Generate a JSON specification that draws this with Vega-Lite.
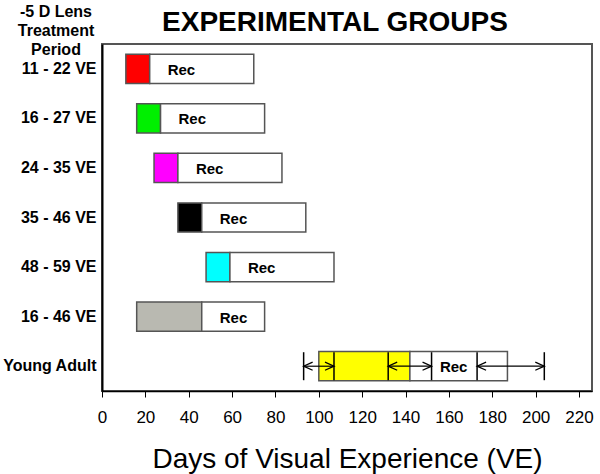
{
  "$schema": "https://vega.github.io/schema/vega-lite/v6.json",
  "width": 490,
  "height": 347,
  "autosize": {"type": "none"},
  "padding": {"left": 102, "top": 44, "right": 8, "bottom": 83},
  "background": "white",
  "config": {
    "font": "Liberation Sans",
    "view": {"stroke": "#555", "strokeWidth": 2}
  },
  "title": {
    "text": "EXPERIMENTAL GROUPS",
    "fontSize": 28,
    "fontWeight": "bold",
    "color": "black",
    "anchor": "middle",
    "frame": "group",
    "baseline": "alphabetic",
    "offset": 0,
    "dy": 56,
    "dx": -12
  },
  "datasets": {
    "groups": [
      {"group": "11 - 22 VE", "treat_start": 11, "treat_end": 22, "rec_end": 70},
      {"group": "16 - 27 VE", "treat_start": 16, "treat_end": 27, "rec_end": 75},
      {"group": "24 - 35 VE", "treat_start": 24, "treat_end": 35, "rec_end": 83},
      {"group": "35 - 46 VE", "treat_start": 35, "treat_end": 46, "rec_end": 94},
      {"group": "48 - 59 VE", "treat_start": 48, "treat_end": 59, "rec_end": 107},
      {"group": "16 - 46 VE", "treat_start": 16, "treat_end": 46, "rec_end": 75},
      {"group": "Young Adult", "treat_start": 100, "treat_end": 142, "rec_end": 187}
    ],
    "ranges": [
      {"group": "Young Adult", "lo": 93, "hi": 107},
      {"group": "Young Adult", "lo": 132, "hi": 152},
      {"group": "Young Adult", "lo": 173, "hi": 204}
    ]
  },
  "encoding": {
    "y": {
      "field": "group",
      "type": "nominal",
      "scale": {
        "domain": ["11 - 22 VE", "16 - 27 VE", "24 - 35 VE", "35 - 46 VE", "48 - 59 VE", "16 - 46 VE", "Young Adult"],
        "paddingInner": 0.41,
        "paddingOuter": 0.205
      },
      "axis": {
        "title": ["-5 D Lens", "Treatment", "Period"],
        "titleAngle": 0,
        "titleAlign": "center",
        "titleBaseline": "alphabetic",
        "titleX": -46.5,
        "titleY": -28,
        "titleLineHeight": 19,
        "titleFontSize": 16,
        "titleFontWeight": "bold",
        "titleColor": "black",
        "labelFontSize": 16,
        "labelFontWeight": "bold",
        "labelColor": "black",
        "labelPadding": 6,
        "ticks": false,
        "domainColor": "black",
        "domainWidth": 2
      }
    }
  },
  "layer": [
    {
      "data": {"name": "groups"},
      "mark": {"type": "rect", "stroke": "#555", "strokeWidth": 1.5},
      "encoding": {
        "x": {
          "field": "treat_start",
          "type": "quantitative",
          "scale": {"domain": [0, 226], "nice": false},
          "axis": {
            "title": "Days of Visual Experience (VE)",
            "values": [0, 20, 40, 60, 80, 100, 120, 140, 160, 180, 200, 220],
            "grid": false,
            "labelFontSize": 17,
            "labelColor": "black",
            "labelBaseline": "alphabetic",
            "labelPadding": 25,
            "labelFlush": false,
            "tickSize": 6,
            "tickColor": "black",
            "domainColor": "black",
            "domainWidth": 1.5,
            "titleFontSize": 28,
            "titleFontWeight": "normal",
            "titleColor": "black",
            "titleBaseline": "alphabetic",
            "titleY": 76
          }
        },
        "x2": {"field": "treat_end"},
        "fill": {
          "field": "group",
          "type": "nominal",
          "scale": {
            "domain": ["11 - 22 VE", "16 - 27 VE", "24 - 35 VE", "35 - 46 VE", "48 - 59 VE", "16 - 46 VE", "Young Adult"],
            "range": ["#FF0000", "#00F000", "#FF00FF", "#000000", "#00FFFF", "#B9B9B1", "#FFFF00"]
          },
          "legend": null
        }
      }
    },
    {
      "data": {"name": "groups"},
      "mark": {"type": "rect", "fill": "white", "stroke": "#555", "strokeWidth": 1.5},
      "encoding": {
        "x": {"field": "treat_end", "type": "quantitative"},
        "x2": {"field": "rec_end"}
      }
    },
    {
      "data": {"name": "groups"},
      "transform": [{"filter": "datum.group !== 'Young Adult'"}],
      "mark": {"type": "text", "align": "left", "baseline": "middle", "dx": 18, "dy": 1, "fontSize": 15, "fontWeight": "bold", "color": "black"},
      "encoding": {
        "x": {"field": "treat_end", "type": "quantitative"},
        "text": {"value": "Rec"}
      }
    },
    {
      "data": {"name": "groups"},
      "transform": [{"filter": "datum.group === 'Young Adult'"}],
      "mark": {"type": "text", "align": "left", "baseline": "middle", "dx": 30, "dy": 1, "fontSize": 15, "fontWeight": "bold", "color": "black"},
      "encoding": {
        "x": {"field": "treat_end", "type": "quantitative"},
        "text": {"value": "Rec"}
      }
    },
    {
      "data": {"name": "ranges"},
      "mark": {"type": "tick", "orient": "vertical", "size": 28, "thickness": 1.5, "color": "black", "opacity": 1},
      "encoding": {
        "x": {"field": "lo", "type": "quantitative"}
      }
    },
    {
      "data": {"name": "ranges"},
      "mark": {"type": "tick", "orient": "vertical", "size": 28, "thickness": 1.5, "color": "black", "opacity": 1},
      "encoding": {
        "x": {"field": "hi", "type": "quantitative"}
      }
    },
    {
      "data": {"name": "ranges"},
      "mark": {"type": "rule", "color": "black", "strokeWidth": 1.2},
      "encoding": {
        "x": {"field": "lo", "type": "quantitative"},
        "x2": {"field": "hi"}
      }
    },
    {
      "data": {"name": "ranges"},
      "mark": {"type": "point", "shape": "M 1 -0.45 L 0 0 L 1 0.45", "size": 324, "filled": false, "stroke": "black", "strokeWidth": 1.3, "opacity": 1},
      "encoding": {
        "x": {"field": "lo", "type": "quantitative"}
      }
    },
    {
      "data": {"name": "ranges"},
      "mark": {"type": "point", "shape": "M -1 -0.45 L 0 0 L -1 0.45", "size": 324, "filled": false, "stroke": "black", "strokeWidth": 1.3, "opacity": 1},
      "encoding": {
        "x": {"field": "hi", "type": "quantitative"}
      }
    }
  ]
}
